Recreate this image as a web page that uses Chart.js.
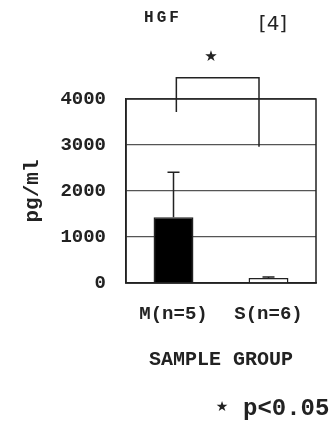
<!DOCTYPE html>
<html>
<head>
<meta charset="utf-8">
<script src="https://cdn.jsdelivr.net/npm/chart.js@4.4.1/dist/chart.umd.min.js"></script>
<style>
  html, body { margin: 0; padding: 0; background: #fff; }
  canvas { display: block; }
</style>
</head>
<body>
<canvas id="hgf" width="334" height="421"></canvas>
<script>
/* ===== DATA ===== */
const groups = ['M(n=5)', 'S(n=6)'];
const means = [1430, 110];
const sds = [980, 20];
const yTicks = [0, 1000, 2000, 3000, 4000];
// significance bracket: x in category units, y in pg/ml
const bracketX = [0.03, 0.9];
const bracketLegEnds = [3720, 2960];
const bracketTop = 4460;
const starValue = 4920;

const mono = 'Liberation Mono';
const ink = '#222';

/* ===== FRAME, ERROR BARS, BRACKET, NOTES ===== */
const annotate = {
  id: 'annotate',
  afterDatasetsDraw(chart) {
    const { ctx, chartArea: a, scales: { x, y } } = chart;
    ctx.save();
    ctx.strokeStyle = ink;
    ctx.lineWidth = 1.5;

    ctx.strokeRect(a.left, a.top, a.right - a.left, a.bottom - a.top);

    const bars = chart.getDatasetMeta(0).data;
    bars.forEach((b, i) => {
      const y0 = y.getPixelForValue(means[i]);
      const y1 = y.getPixelForValue(means[i] + sds[i]);
      ctx.beginPath();
      ctx.moveTo(b.x, y0); ctx.lineTo(b.x, y1);
      ctx.moveTo(b.x - 6, y1); ctx.lineTo(b.x + 6, y1);
      ctx.stroke();
    });

    const xl = x.getPixelForValue(bracketX[0]);
    const xr = x.getPixelForValue(bracketX[1]);
    const yt = y.getPixelForValue(bracketTop);
    ctx.beginPath();
    ctx.moveTo(xl, y.getPixelForValue(bracketLegEnds[0]));
    ctx.lineTo(xl, yt);
    ctx.lineTo(xr, yt);
    ctx.lineTo(xr, y.getPixelForValue(bracketLegEnds[1]));
    ctx.stroke();

    ctx.fillStyle = ink;
    ctx.textAlign = 'center';
    ctx.textBaseline = 'middle';
    ctx.font = '15px "DejaVu Sans"';
    ctx.fillText('★', 211, y.getPixelForValue(starValue));

    ctx.font = `bold 16px "${mono}"`;
    ctx.letterSpacing = '3px';
    ctx.fillText('HGF', 163, 18);
    ctx.letterSpacing = '0px';

    ctx.font = '20px "DejaVu Sans"';
    ctx.fillText('[4]', 273, 25);

    ctx.font = '14px "DejaVu Sans"';
    ctx.fillText('★', 222, 407);
    ctx.textAlign = 'left';
    ctx.font = `bold 24px "${mono}"`;
    ctx.fillText('p<0.05', 243, 409);
    ctx.restore();
  }
};

new Chart(document.getElementById('hgf'), {
  type: 'bar',
  data: {
    labels: groups,
    datasets: [{
      data: means,
      backgroundColor: ['#000', '#fff'],
      borderColor: ink,
      borderWidth: 1.5,
      categoryPercentage: 1,
      barPercentage: 0.42
    }]
  },
  options: {
    responsive: false,
    animation: false,
    layout: { padding: { top: 99, right: 18, left: 0, bottom: 0 } },
    plugins: { legend: { display: false }, tooltip: { enabled: false } },
    scales: {
      x: {
        grid: { display: false, drawTicks: false },
        border: { display: true, color: ink, width: 1.5 },
        ticks: { font: { family: mono, size: 19, weight: 'bold' }, color: ink, padding: 20 },
        title: { display: true, text: 'SAMPLE GROUP', color: ink, font: { family: mono, size: 20, weight: 'bold' }, padding: { bottom: 49 } },
        afterFit: s => { s.height = 138; }
      },
      y: {
        min: 0, max: 4000,
        afterBuildTicks: s => { s.ticks = yTicks.map(v => ({ value: v })); },
        grid: { color: '#555', lineWidth: 1.2, drawTicks: false },
        border: { display: true, color: ink, width: 1.5 },
        ticks: { font: { family: mono, size: 19, weight: 'bold' }, color: ink, padding: 20, callback: v => String(v) },
        title: { display: true, text: 'pg/ml', color: ink, font: { family: mono, size: 21, weight: 'bold' }, padding: { top: 20 } },
        afterFit: s => { s.width = 126; }
      }
    }
  },
  plugins: [annotate]
});
</script>
</body>
</html>
